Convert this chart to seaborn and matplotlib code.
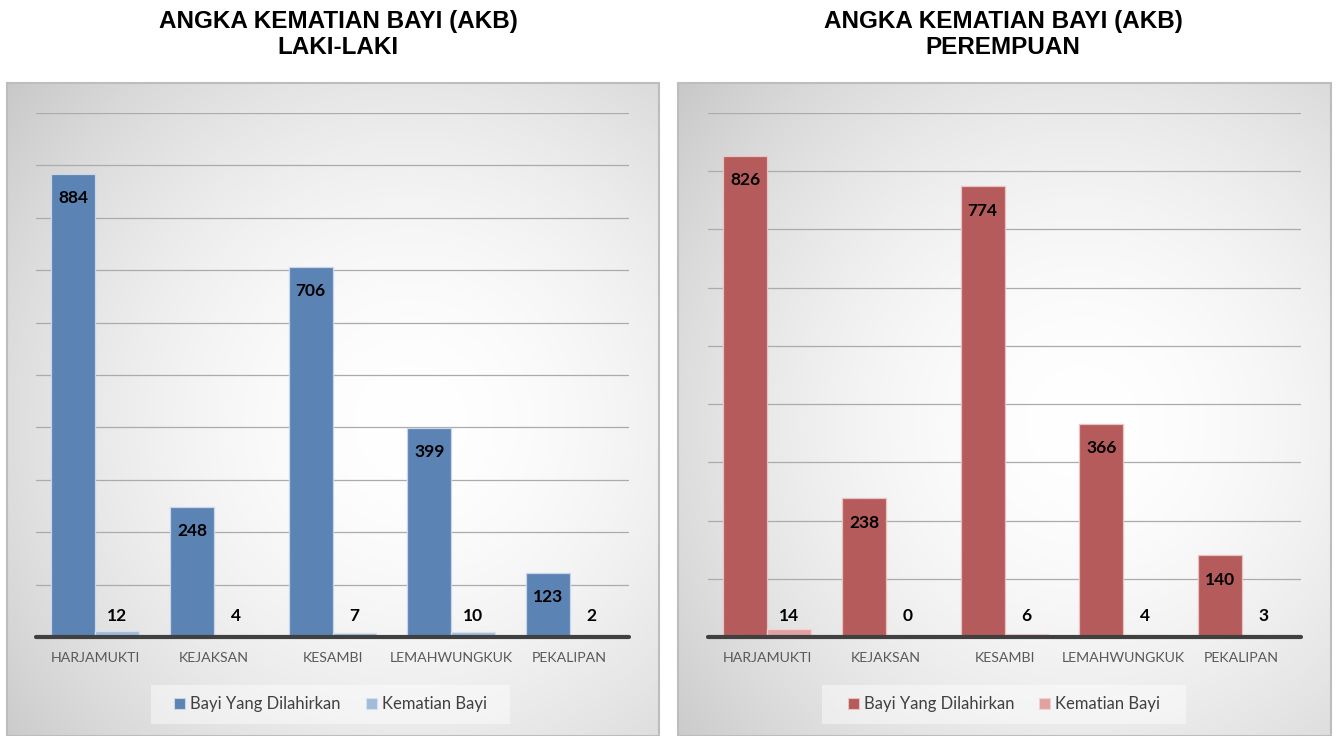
import numpy as np
import pandas as pd
import seaborn as sns
from matplotlib import pyplot as plt
from matplotlib.patches import Patch, Rectangle

kecamatan = ["HARJAMUKTI", "KEJAKSAN", "KESAMBI", "LEMAHWUNGKUK", "PEKALIPAN"]
series_names = ["Bayi Yang Dilahirkan", "Kematian Bayi"]

lahir_laki = [884, 248, 706, 399, 123]
mati_laki = [12, 4, 7, 10, 2]
lahir_perempuan = [826, 238, 774, 366, 140]
mati_perempuan = [14, 0, 6, 4, 3]

titles = ["ANGKA KEMATIAN BAYI (AKB)\nLAKI-LAKI", "ANGKA KEMATIAN BAYI (AKB)\nPEREMPUAN"]
y_max = [1000, 900]

sns.set_theme(style="white")
plt.rcParams['font.family'] = ['Lato', 'DejaVu Sans']

W, H = 1336, 736
fig = plt.figure(figsize=(W / 100, H / 100), dpi=100)


def make_df(lahir, mati):
    df = pd.DataFrame({"Kecamatan": kecamatan * 2,
                       "Kategori": [series_names[0]] * 5 + [series_names[1]] * 5,
                       "Jumlah": lahir + mati})
    return df


def panel_background(x0, x1):
    # radial grey gradient like the Excel chart area
    bg = fig.add_axes([x0 / W, 0, (x1 - x0) / W, (H - 83) / H], zorder=-5)
    yy, xx = np.mgrid[0:1:300j, 0:1:300j]
    r = np.sqrt((xx - 0.62) ** 2 + (yy - 0.52) ** 2) / 0.8
    g = 1 - 0.21 * np.clip(r, 0, 1.2) ** 1.8
    bg.imshow(np.dstack([g, g, g]), extent=(0, 1, 0, 1), aspect='auto', origin='upper')
    bg.set_xlim(0, 1)
    bg.set_ylim(0, 1)
    bg.axis('off')
    bg.add_patch(Rectangle((0, 0), 1, 1, transform=bg.transAxes, fill=False,
                           edgecolor='#BDBDBD', lw=1.5, clip_on=False))


def plot_panel(left_px, lahir, mati, colors, edges, ymax, title, title_x, legend_box):
    ax = fig.add_axes([left_px / W, 99 / H, 593 / W, 524 / H])
    df = make_df(lahir, mati)
    sns.barplot(data=df, x="Kecamatan", y="Jumlah", hue="Kategori", palette=colors,
                width=0.74, gap=0, saturation=1, ax=ax, legend=False, zorder=2)
    for cont, ec in zip(ax.containers, edges):
        for p in cont:
            p.set_edgecolor(ec)
            p.set_linewidth(0.9)
    ax.patch.set_alpha(0)
    ax.set_ylim(0, ymax)
    ax.set_xlim(-0.5, 4.5)
    ax.set_yticks(np.arange(0, ymax + 1, 100))
    ax.grid(axis='y', color='#ABABAB', lw=0.9)
    ax.set_axisbelow(True)
    sns.despine(ax=ax, left=True, bottom=True)
    ax.tick_params(axis='y', length=0, labelleft=False)
    ax.tick_params(axis='x', length=0, pad=11, labelsize=10.2, labelcolor='#595959')
    ax.set_xlabel("")
    ax.set_ylabel("")
    ax.axhline(0, color='#404040', lw=3, zorder=4, clip_on=False)

    # data labels: births inside bar end, deaths above the base
    for p in ax.containers[0]:
        ax.annotate(f"{int(round(p.get_height()))}", (p.get_x() + p.get_width() / 2, p.get_height()),
                    xytext=(0, -17.5), textcoords='offset points', ha='center', va='center',
                    fontsize=12.5, fontweight='bold', color='black', zorder=5)
    for p in ax.containers[1]:
        ax.annotate(f"{int(round(p.get_height()))}", (p.get_x() + p.get_width() / 2, 0),
                    xytext=(0, 15), textcoords='offset points', ha='center', va='center',
                    fontsize=12.5, fontweight='bold', color='black', zorder=5)

    fig.text(title_x / W, 1 - 34.5 / H, title, ha='center', va='center', fontsize=17.5,
             fontweight='bold', family='Liberation Sans', linespacing=1.15, color='black')

    bx0, by0, bw, bh = legend_box
    fig.patches.append(Rectangle((bx0 / W, 1 - (by0 + bh) / H), bw / W, bh / H,
                                 transform=fig.transFigure, facecolor='white', alpha=0.45,
                                 edgecolor='none', zorder=-1))
    handles = [Patch(facecolor=c, edgecolor=e, lw=0.8) for c, e in zip(colors, edges)]
    ax.legend(handles, series_names, loc='center',
              bbox_to_anchor=((bx0 + bw / 2) / W, 1 - (by0 + bh / 2) / H),
              bbox_transform=fig.transFigure, ncol=2, frameon=False,
              handlelength=0.65, handleheight=0.65, handletextpad=0.3, columnspacing=1.5,
              fontsize=12, labelcolor='#404040')
    return ax


panel_background(7, 659)
panel_background(678, 1331)

plot_panel(36, lahir_laki, mati_laki, ['#5B83B4', '#A3BBDB'], ['#C9D6EA', '#D5E0EE'],
           y_max[0], titles[0], 338, (151, 685, 359, 39))
plot_panel(708, lahir_perempuan, mati_perempuan, ['#B65B5B', '#DFA2A1'], ['#E9C2C2', '#F0D3D2'],
           y_max[1], titles[1], 1003, (822, 685, 364, 39))

fig.savefig("out.png", dpi=100, facecolor='white')
